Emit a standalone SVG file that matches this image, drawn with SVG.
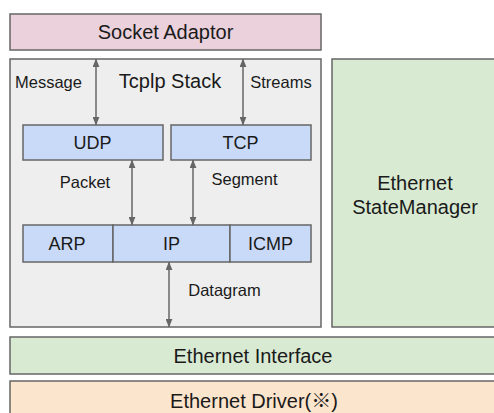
<svg xmlns="http://www.w3.org/2000/svg" width="494" height="413" viewBox="0 0 494 413">
<defs>
<style>
.box{stroke:#666666;stroke-width:1.5}
.t{font-family:"Liberation Sans",Arial,"Noto Sans CJK JP",sans-serif;fill:#1a1a1a;text-anchor:middle;dominant-baseline:central}
.big{font-size:20px}
.mid{font-size:18px}
.sm{font-size:16.5px}
.conn line{stroke:#666666;stroke-width:1.5}
</style>
<marker id="ah" viewBox="0 0 10 8" refX="9.5" refY="4" markerWidth="9" markerHeight="7" markerUnits="userSpaceOnUse" orient="auto-start-reverse">
<path d="M0,0 L10,4 L0,8 z" fill="#666666"/>
</marker>
</defs>
<rect width="494" height="413" fill="#ffffff"/>
<g id="socket-adaptor">
<rect class="box" x="10" y="14" width="311" height="36" fill="#ead1dc"/>
<text class="t big" x="165.5" y="32">Socket Adaptor</text>
</g>
<g id="tcpip-stack">
<rect class="box" x="10" y="59" width="311" height="268" fill="#eeeeee"/>
<text class="t big" x="170" y="81">Tcplp Stack</text>
</g>
<g id="udp">
<rect class="box" x="23" y="125" width="140" height="35" fill="#c9daf8"/>
<text class="t mid" x="92.5" y="143">UDP</text>
</g>
<g id="tcp">
<rect class="box" x="171" y="125" width="140" height="35" fill="#c9daf8"/>
<text class="t mid" x="240.5" y="143">TCP</text>
</g>
<g id="arp">
<rect class="box" x="23" y="225" width="90" height="37" fill="#c9daf8"/>
<text class="t mid" x="67" y="244">ARP</text>
</g>
<g id="ip">
<rect class="box" x="113" y="225" width="117" height="37" fill="#c9daf8"/>
<text class="t mid" x="171.5" y="244">IP</text>
</g>
<g id="icmp">
<rect class="box" x="230" y="225" width="81" height="37" fill="#c9daf8"/>
<text class="t mid" x="270.5" y="244">ICMP</text>
</g>
<g id="ethernet-statemanager">
<rect class="box" x="332" y="59" width="170" height="268" fill="#d9ead3"/>
<text class="t big" x="415" y="183">Ethernet</text>
<text class="t big" x="415" y="207">StateManager</text>
</g>
<g id="ethernet-interface">
<rect class="box" x="10" y="337" width="492" height="37" fill="#d9ead3"/>
<text class="t big" x="253" y="356">Ethernet Interface</text>
</g>
<g id="ethernet-driver">
<rect class="box" x="10" y="381" width="492" height="40" fill="#fce5cd"/>
<text class="t big" x="254" y="401">Ethernet Driver(※)</text>
</g>
<g id="connectors" class="conn">
<line x1="96" y1="59" x2="96" y2="125" marker-start="url(#ah)" marker-end="url(#ah)"/>
<line x1="243" y1="59" x2="243" y2="125" marker-start="url(#ah)" marker-end="url(#ah)"/>
<line x1="132" y1="160" x2="132" y2="225" marker-start="url(#ah)" marker-end="url(#ah)"/>
<line x1="193" y1="160" x2="193" y2="225" marker-start="url(#ah)" marker-end="url(#ah)"/>
<line x1="169" y1="262" x2="169" y2="327" marker-start="url(#ah)" marker-end="url(#ah)"/>
<text class="t sm" x="48.5" y="81.5">Message</text>
<text class="t sm" x="281" y="81.5">Streams</text>
<text class="t sm" x="85" y="182">Packet</text>
<text class="t sm" x="244.5" y="179">Segment</text>
<text class="t sm" x="224.5" y="290">Datagram</text>
</g>
</svg>
